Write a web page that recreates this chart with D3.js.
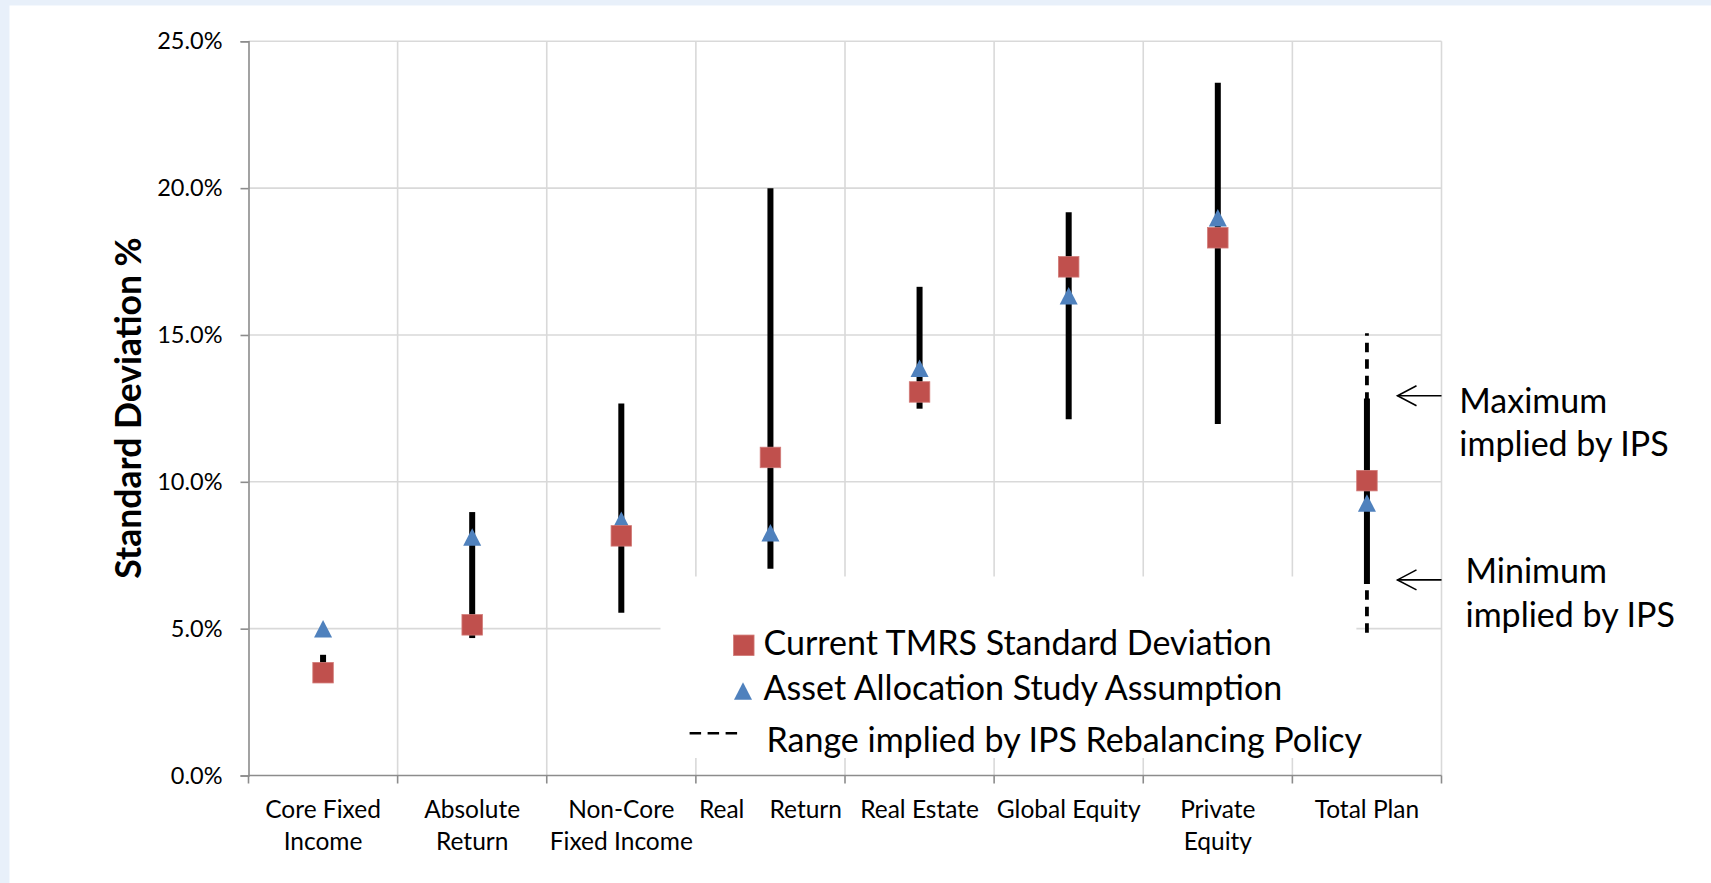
<!DOCTYPE html>
<html>
<head>
<meta charset="utf-8">
<script src="https://cdn.jsdelivr.net/npm/d3@7/dist/d3.min.js"></script>
<style>
  html, body { margin: 0; padding: 0; background: #e8f0fa; }
  svg { display: block; }
  text { font-family: Lato, "Open Sans", sans-serif; fill: #000; }
</style>
</head>
<body>
<svg id="chart" width="1711" height="883"></svg>
<script>
// ---- data ----
const categories = ["Core Fixed Income", "Absolute Return", "Non-Core Fixed Income", "Real Return",
                    "Real Estate", "Global Equity", "Private Equity", "Total Plan"];
const categoryLines = [["Core Fixed", "Income"], ["Absolute", "Return"], ["Non-Core", "Fixed Income"],
                       ["Real    Return"], ["Real Estate"], ["Global Equity"], ["Private", "Equity"], ["Total Plan"]];
const currentTMRS = [3.50, 5.13, 8.16, 10.83, 13.06, 17.32, 18.31, 10.04];
const assetAllocation = [5.00, 8.12, 8.69, 8.27, 13.87, 16.34, 18.99, 9.28];
const rangeLow  = [3.50, 4.68, 5.54, 7.04, 12.49, 12.13, 11.97, 6.52];
const rangeHigh = [4.11, 8.97, 12.67, 20.00, 16.64, 19.18, 23.59, 12.84];
const ipsCategory = "Total Plan";
const ipsRange = [4.86, 15.06];
const yTicks = [0, 5, 10, 15, 20, 25];
const legendLabels = ["Current TMRS Standard Deviation", "Asset Allocation Study Assumption",
                      "Range implied by IPS Rebalancing Policy"];
const annotationLines = [["Maximum", "implied by IPS"], ["Minimum", "implied by IPS"]];
const annotationValues = [12.93, 6.66];
const yTitle = "Standard Deviation %";

// ---- layout ----
const svg = d3.select("#chart");
const W = 1711, H = 883;
const plot = { left: 248.5, right: 1441.5, top: 41.3, bottom: 775.5 };
const RED = "#c0504d", BLUE = "#4f81bd", GRID = "#d9d9d9", AXIS = "#8c8c8c";

svg.append("rect").attr("x", 0).attr("y", 0).attr("width", W).attr("height", H).attr("fill", "#e8f0fa");
svg.append("rect").attr("x", 9.5).attr("y", 5.5).attr("width", W - 9.5).attr("height", H - 5.5).attr("fill", "#ffffff");

const x = d3.scaleBand().domain(categories).range([plot.left, plot.right]).paddingInner(0).paddingOuter(0);
const y = d3.scaleLinear().domain([0, 25]).range([plot.bottom, plot.top]);
const cx = c => x(c) + x.bandwidth() / 2;

// gridlines
const grid = svg.append("g");
grid.selectAll("line.h").data(yTicks.filter(t => t > 0)).join("line")
  .attr("x1", plot.left).attr("x2", plot.right)
  .attr("y1", d => y(d)).attr("y2", d => y(d))
  .attr("stroke", GRID).attr("stroke-width", 1.6);
const bounds = categories.map(c => x(c) + x.bandwidth());
grid.selectAll("line.v").data(bounds).join("line")
  .attr("x1", d => d).attr("x2", d => d)
  .attr("y1", plot.top).attr("y2", plot.bottom)
  .attr("stroke", GRID).attr("stroke-width", 1.6);

// axes
const yAxis = d3.axisLeft(y).tickValues(yTicks).tickFormat(d => d3.format(".1f")(d) + "%").tickSize(8).tickPadding(18);
const gy = svg.append("g").attr("transform", `translate(${plot.left},0)`).call(yAxis);
gy.select(".domain").attr("stroke", AXIS).attr("stroke-width", 1.6);
gy.selectAll(".tick line").attr("stroke", AXIS).attr("stroke-width", 1.6);
gy.selectAll(".tick text").style("font-family", "Lato").style("font-size", "23.5px").attr("fill", "#000");

// x axis line and ticks at band boundaries
svg.append("line").attr("x1", plot.left).attr("x2", plot.right).attr("y1", plot.bottom).attr("y2", plot.bottom)
  .attr("stroke", AXIS).attr("stroke-width", 1.6);
const xb = [plot.left].concat(bounds);
svg.selectAll("line.xt").data(xb).join("line")
  .attr("x1", d => d).attr("x2", d => d).attr("y1", plot.bottom).attr("y2", plot.bottom + 8)
  .attr("stroke", AXIS).attr("stroke-width", 1.6);

// category labels
const catG = svg.append("g");
categories.forEach((c, i) => {
  const t = catG.append("text").attr("x", cx(c)).attr("y", 818).attr("text-anchor", "middle")
    .attr("xml:space", "preserve").style("white-space", "pre")
    .style("font-size", "24.5px");
  categoryLines[i].forEach((ln, j) => {
    t.append("tspan").attr("x", cx(c)).attr("dy", j === 0 ? 0 : 31.5).text(ln);
  });
});

// y title
svg.append("text").attr("transform", `translate(141,408) rotate(-90)`).attr("text-anchor", "middle")
  .style("font-size", "35.5px").style("font-weight", "bold").text(yTitle);

// legend box (covers gridlines)
svg.append("rect").attr("x", 660.5).attr("y", 576.5).attr("width", 1356.4 - 660.5).attr("height", 758 - 576.5)
  .attr("fill", "#ffffff");

// IPS dashed range
svg.append("line").attr("x1", cx(ipsCategory)).attr("x2", cx(ipsCategory))
  .attr("y1", y(ipsRange[0])).attr("y2", y(ipsRange[1]))
  .attr("stroke", "#000").attr("stroke-width", 3.8).attr("stroke-dasharray", "9.5 7");

// range bars
svg.selectAll("line.bar").data(categories).join("line")
  .attr("x1", d => cx(d)).attr("x2", d => cx(d))
  .attr("y1", (d, i) => y(rangeLow[i])).attr("y2", (d, i) => y(rangeHigh[i]))
  .attr("stroke", "#000").attr("stroke-width", 6);

// triangles
const triW = 18, triH = 17.5;
const triPath = `M0,${-triH / 2}L${triW / 2},${triH / 2}L${-triW / 2},${triH / 2}Z`;
svg.selectAll("path.tri").data(categories).join("path")
  .attr("d", triPath)
  .attr("transform", (d, i) => `translate(${cx(d)},${y(assetAllocation[i])})`)
  .attr("fill", BLUE);

// squares
const sq = 20.5;
svg.selectAll("rect.sq").data(categories).join("rect")
  .attr("x", d => cx(d) - sq / 2).attr("y", (d, i) => y(currentTMRS[i]) - sq / 2)
  .attr("width", sq).attr("height", sq)
  .attr("fill", RED).attr("stroke", "#d27a77").attr("stroke-width", 0.8);

// legend
const lg = svg.append("g");
lg.append("rect").attr("x", 743.8 - sq / 2).attr("y", 645.3 - sq / 2).attr("width", sq).attr("height", sq)
  .attr("fill", RED).attr("stroke", "#d27a77").attr("stroke-width", 0.8);
lg.append("path").attr("d", triPath).attr("transform", "translate(743,691)").attr("fill", BLUE);
lg.append("line").attr("x1", 689.6).attr("x2", 737.7).attr("y1", 733.3).attr("y2", 733.3)
  .attr("stroke", "#000").attr("stroke-width", 2.4).attr("stroke-dasharray", "11.5 6.5");
const legendPos = [[763.6, 655], [763.6, 700], [766.5, 751.7]];
legendLabels.forEach((l, i) => {
  lg.append("text").attr("x", legendPos[i][0]).attr("y", legendPos[i][1]).style("font-size", "34px").text(l);
});

// annotations
const an = svg.append("g");
const textX = [1459.3, 1465.5];
const textBase = [412.7, 583.3];
annotationValues.forEach((v, i) => {
  const ay = y(v);
  const x0 = 1397.5, x1 = 1441.5;
  an.append("line").attr("x1", x0).attr("x2", x1).attr("y1", ay).attr("y2", ay)
    .attr("stroke", "#000").attr("stroke-width", 1.6);
  an.append("path").attr("d", `M${x0 + 19},${ay - 10}L${x0},${ay}L${x0 + 19},${ay + 10}`)
    .attr("fill", "none").attr("stroke", "#000").attr("stroke-width", 1.6);
  annotationLines[i].forEach((ln, j) => {
    an.append("text").attr("x", textX[i]).attr("y", textBase[i] + j * 43.4).style("font-size", "34px").text(ln);
  });
});
</script>
</body>
</html>
